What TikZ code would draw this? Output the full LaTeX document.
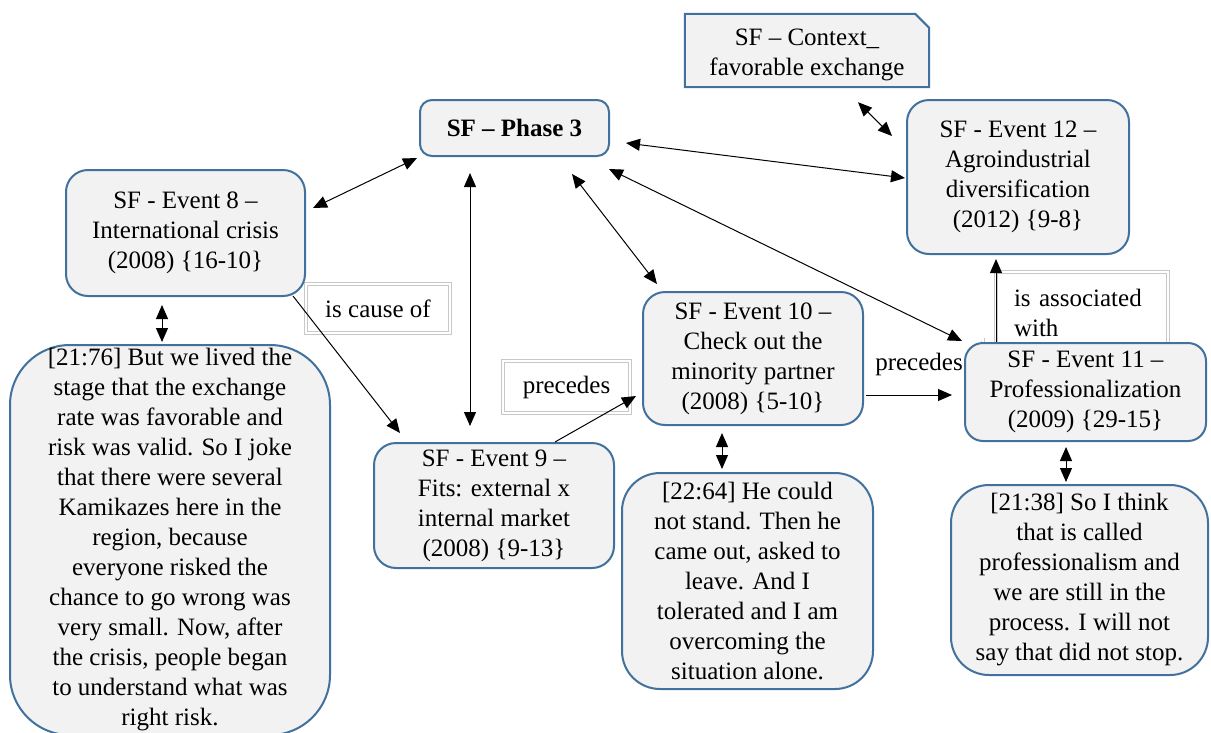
\documentclass[tikz,border=0pt]{standalone}
\usepackage{fontspec}
\setmainfont{Liberation Serif}
\usetikzlibrary{arrows.meta,calc}
\definecolor{bordblue}{RGB}{65,113,156}
\definecolor{boxfill}{RGB}{242,242,242}
\definecolor{lblgray}{RGB}{200,200,200}
\tikzset{
  txt/.style={font=\fontsize{25}{30}\selectfont, align=center, inner sep=0pt},
  evbox/.style={txt, draw=bordblue, fill=boxfill, line width=2pt, rounded corners=22pt},
  lblbox/.style={txt, draw=lblgray, double=white, double distance=2.2pt, line width=0.8pt, fill=white},
  biarrow/.style={{Triangle[length=14pt,width=12pt]}-{Triangle[length=14pt,width=12pt]}, line width=1pt},
  onearrow/.style={-{Triangle[length=14pt,width=12pt]}, line width=1pt}
}
\begin{document}
\begin{tikzpicture}[x=1pt,y=-1pt]
\useasboundingbox (0,0) rectangle (1211,732);
\clip (0,0) rectangle (1211,732);
\fill[white] (0,0) rectangle (1211,732);
% labels
\node[lblbox, minimum width=144pt, minimum height=49pt] (lc) at (378,308.5) {is cause of};
\node[lblbox, minimum width=127pt, minimum height=52pt] (lp1) at (566.5,387) {precedes};
\node[lblbox, minimum width=128pt, minimum height=49pt] (lp2) at (919,364) {precedes};
\node[lblbox, minimum width=172pt, minimum height=82pt, text width=136pt, align=left] (la) at (1082,313) {is associated\\with};
% context box with cut corner
\node[minimum width=244pt, minimum height=73pt, inner sep=0pt] (ctx) at (807,50.5) {};
\draw[draw=bordblue, fill=boxfill, line width=2pt] (ctx.north west) -- ($(ctx.north east)+(-14,0)$) -- ($(ctx.north east)+(0,14)$) -- (ctx.south east) -- (ctx.south west) -- cycle;
\node[txt] (ctxt) at ($(ctx.center)+(0,4.5)$) {SF – Context\_\\favorable exchange};
% nodes
\node[evbox, rounded corners=12pt, minimum width=189pt, minimum height=56pt] (ph) at (514.5,128) {\textbf{SF – Phase 3}};
\node[evbox, minimum width=222pt, minimum height=154pt] (e12) at (1018,177) {SF - Event 12 –\\Agroindustrial\\diversification\\(2012) \{9-8\}};
\node[evbox, minimum width=239pt, minimum height=126pt] (e8) at (185.5,233) {SF - Event 8 –\\International crisis\\(2008) \{16-10\}};
\node[evbox, rounded corners=60pt, minimum width=320pt, minimum height=390pt] (q1) at (170,540) {[21:76] But we lived the\\stage that the exchange\\rate was favorable and\\risk was valid. So I joke\\that there were several\\Kamikazes here in the\\region, because\\everyone risked the\\chance to go wrong was\\very small. Now, after\\the crisis, people began\\to understand what was\\right risk.};
\node[evbox, minimum width=240pt, minimum height=125pt] (e9) at (494,505.5) {SF - Event 9 –\\Fits: external x\\internal market\\(2008) \{9-13\}};
\node[evbox, minimum width=220pt, minimum height=133pt] (e10) at (753,358.5) {SF - Event 10 –\\Check out the\\minority partner\\(2008) \{5-10\}};
\node[evbox, rounded corners=18pt, minimum width=241pt, minimum height=98pt] (e11) at (1085.5,392) {SF - Event 11 –\\Professionalization\\(2009) \{29-15\}};
\node[evbox, rounded corners=38pt, minimum width=251pt, minimum height=216pt] (q2) at (747.5,581) {[22:64] He could\\not stand. Then he\\came out, asked to\\leave. And I\\tolerated and I am\\overcoming the\\situation alone.};
\node[evbox, rounded corners=38pt, minimum width=257pt, minimum height=190pt] (q3) at (1079.5,580) {[21:38] So I think\\that is called\\professionalism and\\we are still in the\\process. I will not\\say that did not stop.};
% connectors
\draw[biarrow] ($(ph.south west)+(-2,1)$) -- ($(e8.east)+(7,-25)$);
\draw[biarrow] ($(ph.south)+(-44.5,16)$) -- ($(e9.north)+(-24,-16)$);
\draw[biarrow] ($(ph.south)+(57.5,17)$) -- ($(e10.north)+(-96,-7)$);
\draw[biarrow] ($(ph.east)+(16,15)$) -- ($(e12.west)+(-1,1)$);
\draw[biarrow] ($(ph.south east)+(-1,12)$) -- ($(e11.north west)+(-2,-1)$);
\draw[biarrow] ($(ctx.south)+(51,15)$) -- ($(e12.north west)+(-14,37)$);
\draw[biarrow] ($(e8.south)+(-23.5,8)$) -- ($(q1.north)+(-8,-2)$);
\draw[onearrow] ($(e8.south east)+(-13,-1)$) -- ($(e9.north west)+(27,-9)$);
\draw[onearrow] ($(e9.north)+(61,0)$) -- ($(e10.west)+(-6,37.5)$);
\draw[onearrow] ($(e10.east)+(2,36.5)$) -- ($(e11.west)+(-12,3)$);
\draw[onearrow] ($(e11.north west)+(32,0)$) -- ($(e12.south west)+(90,4)$);
\draw[biarrow] ($(e10.south)+(-31,7)$) -- ($(q2.north)+(-25.5,-3)$);
\draw[biarrow] ($(e11.south)+(-19.5,5)$) -- ($(q3.north)+(-13.5,-2)$);
\end{tikzpicture}
\end{document}
